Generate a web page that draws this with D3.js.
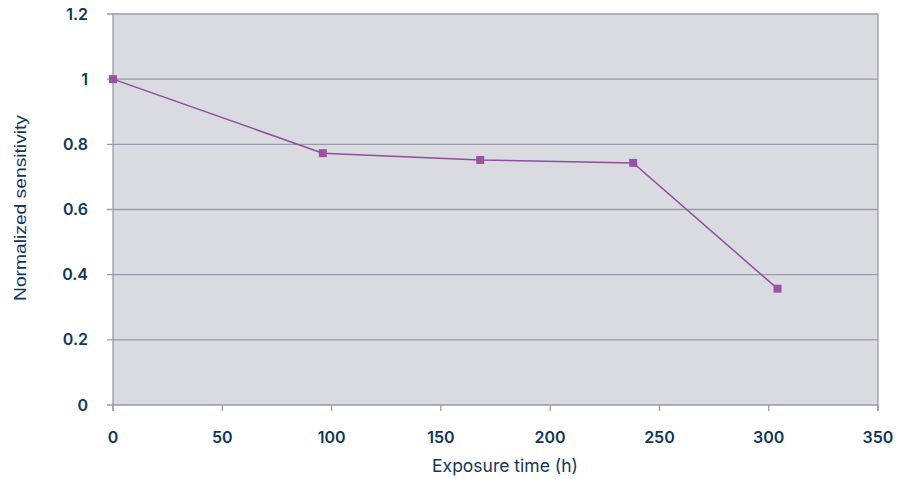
<!DOCTYPE html>
<html><head><meta charset="utf-8">
<script src="https://cdn.jsdelivr.net/npm/d3@7"></script>
<style>body{margin:0;background:#fff;}svg{display:block;}</style>
</head><body>
<svg id="chart" width="913" height="479"></svg>
<script>
const exposureHours = [0, 96, 168, 238, 304];
const sensitivity = [1.0, 0.773, 0.752, 0.743, 0.357];
const xTicks = [0, 50, 100, 150, 200, 250, 300, 350];
const yTicks = [0, 0.2, 0.4, 0.6, 0.8, 1, 1.2];
const xTitle = "Exposure time (h)";
const yTitle = "Normalized sensitivity";

const svg = d3.select("#chart");
const m = {left:113, right:35, top:14, bottom:74};
const W = 913, H = 479;
const x = d3.scaleLinear().domain([0,350]).range([m.left, W-m.right]);
const y = d3.scaleLinear().domain([0,1.2]).range([H-m.bottom, m.top]);
const textColor = "#13355a";
const gridColor = "#9a9aaa";

svg.append("rect").attr("x", x(0)).attr("y", y(1.2))
  .attr("width", x(350)-x(0)).attr("height", y(0)-y(1.2)).attr("fill", "#dadbe0");

svg.append("g").selectAll("line").data(yTicks).join("line")
  .attr("x1", x(0)-6).attr("x2", x(350)).attr("y1", d=>y(d)).attr("y2", d=>y(d))
  .attr("stroke", gridColor).attr("stroke-width", 1.3);
svg.append("g").selectAll("line").data(xTicks).join("line")
  .attr("x1", d=>x(d)).attr("x2", d=>x(d)).attr("y1", y(0)).attr("y2", y(0)+6)
  .attr("stroke", gridColor).attr("stroke-width", 1.3);
svg.append("line").attr("x1", x(0)).attr("x2", x(0)).attr("y1", y(1.2)).attr("y2", y(0)+6)
  .attr("stroke", gridColor).attr("stroke-width", 1.3);
svg.append("line").attr("x1", x(350)).attr("x2", x(350)).attr("y1", y(1.2)).attr("y2", y(0)+6)
  .attr("stroke", gridColor).attr("stroke-width", 1.3);

const fontFam = "Inter, 'Open Sans', sans-serif";
svg.append("g").selectAll("text").data(yTicks).join("text")
  .attr("x", 88).attr("y", d=>y(d)).attr("dy", "0.35em").attr("text-anchor", "end")
  .attr("font-family", fontFam).attr("font-size", 16).attr("font-weight", 600)
  .attr("fill", textColor).text(d=>d3.format("~g")(d));
svg.append("g").selectAll("text").data(xTicks).join("text")
  .attr("x", d=>x(d)).attr("y", 437).attr("dy", "0.35em").attr("text-anchor", "middle")
  .attr("font-family", fontFam).attr("font-size", 16).attr("font-weight", 600)
  .attr("fill", textColor).text(d=>d);

svg.append("text").attr("x", 505).attr("y", 466).attr("dy", "0.35em").attr("text-anchor", "middle")
  .attr("font-family", fontFam).attr("font-size", 17.5)
  .attr("fill", textColor).text(xTitle);
svg.append("text").attr("transform", `translate(20,208) rotate(-90)`).attr("dy", "0.35em")
  .attr("text-anchor", "middle")
  .attr("font-family", "'Liberation Sans', Arial, sans-serif").attr("font-size", 16)
  .attr("textLength", 186).attr("lengthAdjust", "spacingAndGlyphs")
  .attr("fill", textColor).text(yTitle);

const data = exposureHours.map((h,i)=>({h, v:sensitivity[i]}));
svg.append("path").datum(data)
  .attr("d", d3.line().x(d=>x(d.h)).y(d=>y(d.v)))
  .attr("fill", "none").attr("stroke", "#8f4e9e").attr("stroke-width", 1.5);
svg.append("g").selectAll("rect").data(data).join("rect")
  .attr("x", d=>x(d.h)-4).attr("y", d=>y(d.v)-4).attr("width", 8).attr("height", 8)
  .attr("fill", "#9c52a4");
</script>
</body></html>
